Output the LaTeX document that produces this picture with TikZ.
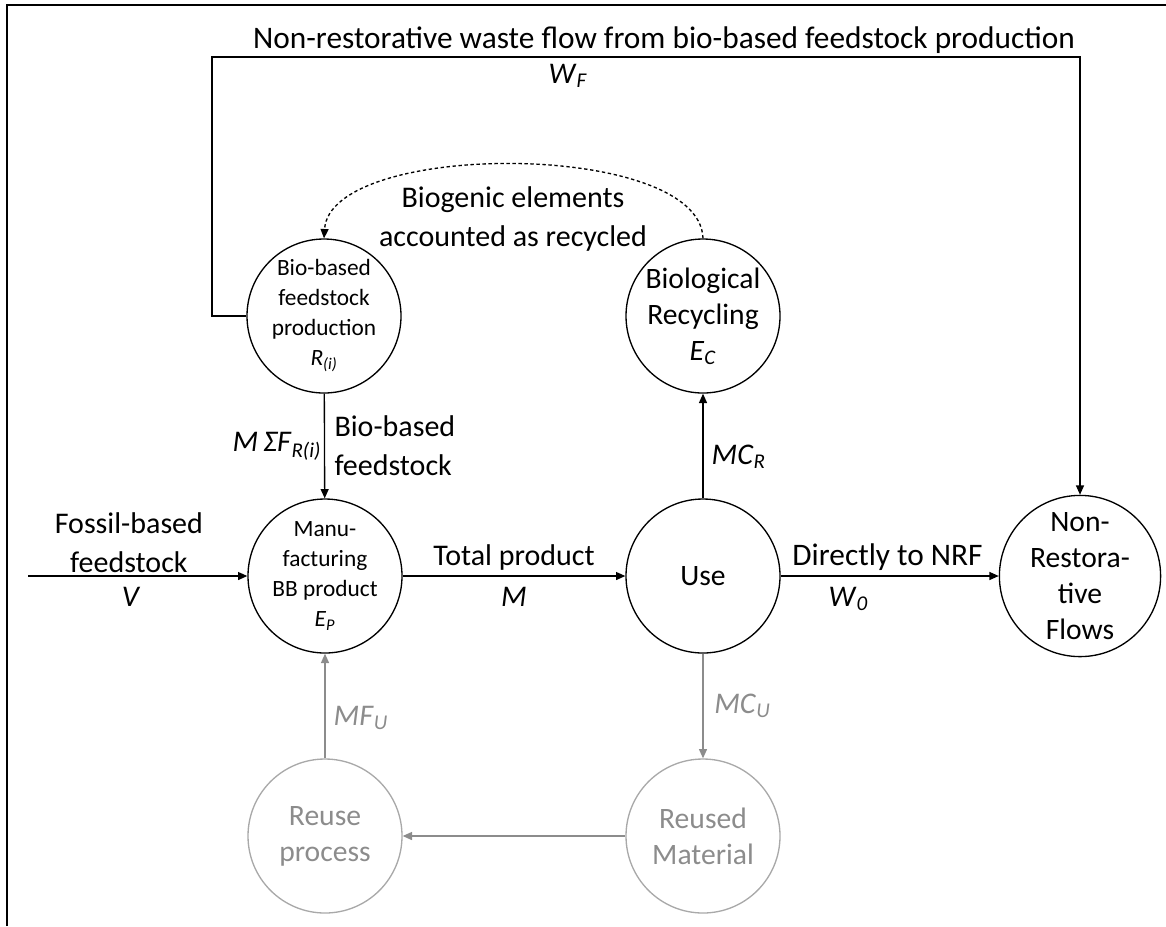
\documentclass[tikz,border=0pt]{standalone}
\usepackage{fontspec}
\setmainfont{Carlito}
\usetikzlibrary{arrows.meta,positioning,calc}
\newcommand{\flowvar}[2]{\textit{#1}\textsubscript{\textit{#2}}}
\definecolor{reusegray}{HTML}{8C8C8C}
\tikzset{
  process/.style={circle,draw,line width=1pt,minimum size=115.5pt,inner sep=0pt,align=center,font=\fontsize{22.2}{27}\selectfont},
  smallprocess/.style={process,font=\fontsize{17.5}{22.5}\selectfont},
  reuse/.style={draw=reusegray!75,text=reusegray},
  flow/.style={-{Triangle[length=7pt,width=6pt]},line width=1pt},
  flowtext/.style={font=\fontsize{22.5}{29.5}\selectfont,align=center,inner sep=2pt},
  bigtext/.style={flowtext,font=\fontsize{23.5}{29.5}\selectfont},
  under/.style={below,yshift=-6pt}
}
\begin{document}
\begin{tikzpicture}[x=0.75pt,y=-0.75pt]
  \useasboundingbox (0,0) rectangle (1166,926);
  \draw[line width=1.6pt] (7,926) -- (7,5) -- (1166,5);

  \node[smallprocess] (bfp) at (324,316) {Bio-based\\feedstock\\production\\\flowvar{R}{(i)}};
  \node[process] (brec) at (703,316) {Biological\\Recycling\\\flowvar{E}{C}};
  \node[smallprocess] (man) at (325,576) {Manu-\\facturing\\BB product\\\flowvar{E}{P}};
  \node[process] (use) at (703,576) {Use};
  \node[process] (nrf) at (1080,576) {Non-\\Restora-\\tive\\Flows};
  \node[process,reuse] (rm) at (703,836) {Reused\\Material};
  \node[process,reuse] (rp) at (325,836) {Reuse\\process};

  \coordinate (fin) at (28,576);
  \coordinate (wl) at (212,57);
  \coordinate (wr) at (1080,57);

  \draw[flow] (fin) -- node[flowtext,above,pos=0.46] {Fossil-based\\feedstock}
    node[flowtext,under,pos=0.47] {\textit{V}} (man);
  \draw[flow] (bfp) -- node[flowtext,left] {\textit{M\,ΣF}\textsubscript{\textit{R(i)}}}
    node[flowtext,right,align=left,xshift=5pt] {Bio-based\\feedstock} (man);
  \draw[flow] (man) -- node[flowtext,above,yshift=1.5pt] {Total product}
    node[flowtext,under] {\textit{M}} (use);
  \draw[flow] (use) -- node[bigtext,above,pos=0.49,yshift=1.5pt] {Directly to NRF}
    node[flowtext,under,pos=0.31] {\flowvar{W}{0}} (nrf);
  \draw[flow] (use) -- node[flowtext,right,pos=0.4,xshift=4pt] {\flowvar{MC}{R}} (brec);
  \draw[flow,reusegray] (use) -- node[flowtext,right,xshift=6pt] {\flowvar{MC}{U}} (rm);
  \draw[flow,reusegray] (rm) -- (rp);
  \draw[flow,reusegray] (rp) -- node[flowtext,right,pos=0.39,xshift=4pt] {\flowvar{MF}{U}} (man);

  \draw[flow,dash pattern=on 2.5pt off 2pt] (brec.north) .. controls (700,140) and (330,140) .. (bfp.north);
  \node[flowtext] (biogenic) at (513,219) {Biogenic elements\\accounted as recycled};

  \draw[flow] (bfp.west) -| (wl) -- (wr) -- (nrf.north);
  \node[bigtext] (waste) at (664,40) {Non-restorative waste flow from bio-based feedstock production};
  \node[flowtext] (wf) at (568,76) {\flowvar{W}{F}};
\end{tikzpicture}
\end{document}
